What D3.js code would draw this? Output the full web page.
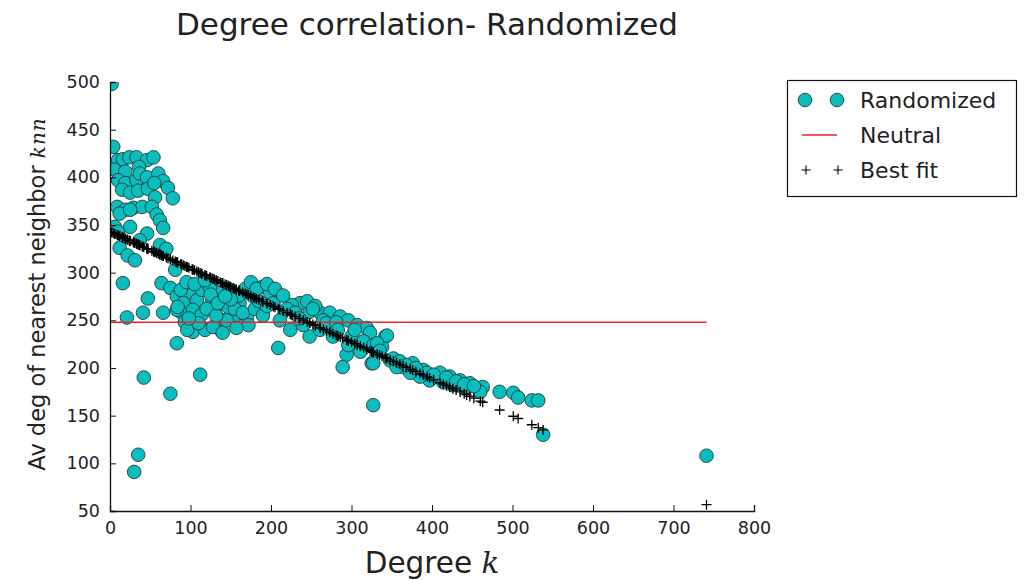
<!DOCTYPE html>
<html>
<head>
<meta charset="utf-8">
<script src="https://cdn.jsdelivr.net/npm/d3@7"></script>
<style>
  html, body { margin: 0; padding: 0; background: #fff; }
  svg { display: block; }
  text { font-family: "DejaVu Sans", sans-serif; fill: #222; }
</style>
</head>
<body>
<svg id="chart" width="1033" height="580"></svg>
<script>
// ---------------- data ----------------
const titleText = "Degree correlation- Randomized";
const xTicks = [0, 100, 200, 300, 400, 500, 600, 700, 800];
const yTicks = [50, 100, 150, 200, 250, 300, 350, 400, 450, 500];

// [degree k, average nearest-neighbour degree knn]
const randomizedPoints = [
  [2,498],[4,432],[10,418],[16,419],[24,421],[33,421],[46,418],[54,421],[36,411],
  [6,408],[19,406],[10,397],[19,394],[33,397],[37,404],[46,400],[60,404],[66,396],[72,389],[78,378],
  [15,387],[25,384],[35,386],[47,388],[55,394],[56,379],
  [9,369],[19,366],[29,368],[40,369],[52,369],[58,361],[62,355],[66,347],[12,362],[25,366],
  [25,348],[6,348],[10,343],[46,341],[37,334],
  [12,326],[22,318],[31,313],[62,329],[70,325],[81,303],[16,289],
  [21,253],[41,258],[66,258],[47,273],[64,289],[75,284],[83,226],[42,190],[75,173],[35,109],[30,91],[112,193],
  [83,275],[91,268],[89,258],[93,248],[102,279],[108,271],[114,282],[103,261],[114,256],[103,238],[118,240],
  [127,271],[130,261],[137,279],[124,284],[140,250],[139,238],[128,243],[147,264],[96,240],[83,261],[84,264],
  [189,285],[199,279],[203,268],[236,268],[226,266],[248,259],[261,258],[273,258],[286,254],[296,250],
  [307,245],[319,242],[323,237],[342,233],[224,240],[209,221],[248,233],[294,214],[296,224],[289,201],
  [311,217],[325,205],[277,233],[261,240],[170,253],[153,250],[140,237],[161,268],[178,275],[149,282],
  [211,250],[240,245],
  [155,262],[165,258],[172,245],[180,262],[185,270],[190,255],[195,265],[160,276],[168,283],[175,290],
  [182,283],[195,288],[205,283],[215,276],[220,262],[230,258],[235,252],[245,270],[255,265],[265,250],
  [150,272],[145,250],[157,242],[120,262],[132,255],[110,247],[98,252],[88,282],[95,290],[105,288],
  [118,292],[125,277],[134,268],[143,275],
  [252,262],[269,247],[281,248],[283,240],[300,233],[304,240],[315,228],[338,222],
  [344,234],[327,224],[327,205],[327,161],[348,208],[364,201],[376,205],[389,198],[410,195],[422,191],
  [435,187],[447,184],[463,180],[484,175],[501,174],[507,169],[524,166],[532,166],[538,130],
  [397,187],[385,191],[373,195],[356,201],[460,175],[443,179],[426,182],[414,185],[394,195],
  [332,226],[335,218],[352,210],[360,207],[368,203],[380,200],[402,193],[418,190],[430,186],[440,183],[452,181],
  [741,108]
];

const neutralValue = 248;        // flat "Neutral" reference level
const fitIntercept = 343;        // best-fit line
const fitSlope = -0.3865;

const legendLabels = ["Randomized", "Neutral", "Best fit"];

// ---------------- layout ----------------
const svg = d3.select("#chart");
const margin = { left: 110, right: 279, top: 82, bottom: 69 };
const W = 1033, H = 580;
const x = d3.scaleLinear().domain([0, 800]).range([margin.left, W - margin.right]);
const y = d3.scaleLinear().domain([50, 500]).range([H - margin.bottom, margin.top]);

const circleFill = "#0cbdbd";
const circleStroke = "#1d3f3f";
const markerR = 6.8;
const plusArm = 5;

svg.append("defs").append("clipPath").attr("id", "plotClip")
  .append("rect")
  .attr("x", x(0)).attr("y", y(500))
  .attr("width", x(800) - x(0)).attr("height", y(50) - y(500));

const plot = svg.append("g").attr("clip-path", "url(#plotClip)");

// Randomized scatter
plot.selectAll("circle.pt").data(randomizedPoints).enter().append("circle")
  .attr("class", "pt")
  .attr("cx", d => x(d[0])).attr("cy", d => y(d[1])).attr("r", markerR)
  .attr("fill", circleFill).attr("stroke", circleStroke).attr("stroke-width", 0.9);

// Neutral line
const kExtent = d3.extent(randomizedPoints, d => d[0]);
plot.append("line")
  .attr("x1", x(kExtent[0] - 2)).attr("x2", x(kExtent[1]))
  .attr("y1", y(neutralValue)).attr("y2", y(neutralValue))
  .attr("stroke", "#e8262a").attr("stroke-width", 1.5);

// Best fit (plus markers at each degree)
const plusPath = (cx, cy, s) => `M${cx - s},${cy}H${cx + s}M${cx},${cy - s}V${cy + s}`;
plot.selectAll("path.fit").data(randomizedPoints).enter().append("path")
  .attr("class", "fit")
  .attr("d", d => plusPath(x(d[0]), y(fitIntercept + fitSlope * d[0]), plusArm))
  .attr("stroke", "#000").attr("stroke-width", 1.3).attr("fill", "none");

// Axes (left and bottom only, inward ticks)
const xAxis = d3.axisBottom(x).tickValues(xTicks).tickSize(-6).tickPadding(10).tickFormat(d3.format("d"));
const yAxis = d3.axisLeft(y).tickValues(yTicks).tickSize(-6).tickPadding(10).tickFormat(d3.format("d"));

const gx = svg.append("g").attr("transform", `translate(0,${y(50)})`).call(xAxis);
const gy = svg.append("g").attr("transform", `translate(${x(0)},0)`).call(yAxis);
[gx, gy].forEach(g => {
  g.select(".domain").attr("stroke", "#111").attr("stroke-width", 1.3);
  g.selectAll(".tick line").attr("stroke", "#111").attr("stroke-width", 1);
  g.selectAll(".tick text").attr("font-size", 17.5).attr("fill", "#222")
    .attr("font-family", "DejaVu Sans, sans-serif");
});
gx.selectAll(".tick text").attr("dy", "0.75em");

// Title
svg.append("text").attr("x", 427).attr("y", 35).attr("text-anchor", "middle")
  .attr("font-size", 31).text(titleText);

// X label
const xl = svg.append("text").attr("x", 432).attr("y", 573).attr("text-anchor", "middle")
  .attr("font-size", 29.5);
xl.append("tspan").text("Degree ");
xl.append("tspan").attr("font-family", "DejaVu Serif, serif").attr("font-style", "italic").text("k");

// Y label
const yl = svg.append("text").attr("transform", "translate(45,294) rotate(-90)")
  .attr("text-anchor", "middle").attr("font-size", 22.5);
yl.append("tspan").text("Av deg of nearest neighbor ");
yl.append("tspan").attr("font-family", "DejaVu Serif, serif").attr("font-style", "italic")
  .attr("font-size", 20).attr("letter-spacing", 1).text("knn");

// Legend
const lg = svg.append("g");
lg.append("rect").attr("x", 787.5).attr("y", 80.5).attr("width", 229).attr("height", 116)
  .attr("fill", "#fff").attr("stroke", "#111").attr("stroke-width", 1.2);
const rowY = [100, 135, 170];
[805, 837].forEach(cx => {
  lg.append("circle").attr("cx", cx).attr("cy", rowY[0]).attr("r", markerR)
    .attr("fill", circleFill).attr("stroke", circleStroke).attr("stroke-width", 0.9);
  lg.append("path").attr("d", plusPath(cx + 1, rowY[2], 4.5))
    .attr("stroke", "#000").attr("stroke-width", 1.1);
});
lg.append("line").attr("x1", 802).attr("x2", 837).attr("y1", rowY[1]).attr("y2", rowY[1])
  .attr("stroke", "#e8262a").attr("stroke-width", 1.5);
legendLabels.forEach((t, i) => {
  lg.append("text").attr("x", 860).attr("y", rowY[i]).attr("dy", "0.36em")
    .attr("font-size", 22).text(t);
});
</script>
</body>
</html>
